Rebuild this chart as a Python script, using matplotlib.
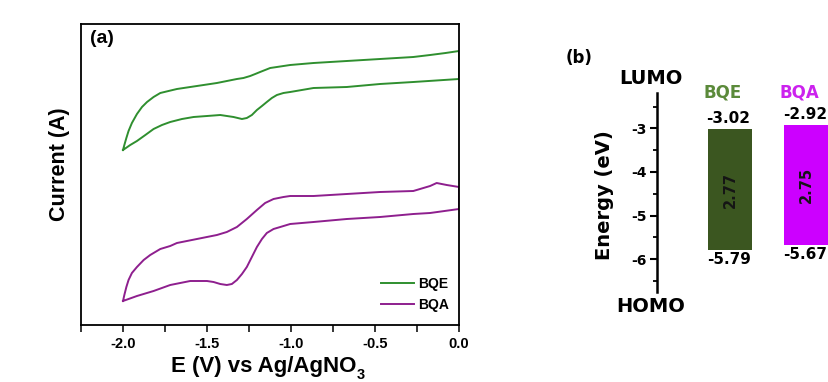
import matplotlib
matplotlib.use("Agg")
import matplotlib.pyplot as plt
from matplotlib.ticker import MultipleLocator

plt.rcParams['axes.unicode_minus'] = False
plt.rcParams['font.family'] = ['Liberation Sans', 'DejaVu Sans']
plt.rcParams['font.weight'] = 'bold'

# ---------------- data: cyclic voltammograms (arbitrary current units) -------------
bqe_fwd_v = [-2.0, -1.992, -1.980, -1.967, -1.947, -1.917, -1.887, -1.857, -1.818, -1.778,
             -1.729, -1.679, -1.560, -1.441, -1.322, -1.283, -1.243, -1.213, -1.184, -1.154,
             -1.124, -1.084, -1.005, -0.866, -0.668, -0.470, -0.272, -0.172, -0.080, 0.0]
bqe_fwd_i = [175, 180, 187, 194, 202, 211, 218, 223, 228, 232,
             234, 236, 239, 242, 246, 247, 249, 251, 253, 255,
             257, 258, 260, 262, 264, 266, 268, 270, 272, 274]
bqe_rev_v = [0.0, -0.272, -0.470, -0.668, -0.866, -1.005, -1.045, -1.084, -1.114, -1.144,
             -1.173, -1.203, -1.233, -1.263, -1.292, -1.342, -1.421, -1.500, -1.580, -1.649,
             -1.719, -1.768, -1.818, -1.867, -1.917, -1.957, -2.0]
bqe_rev_i = [246, 243, 241, 238, 237, 233, 232, 230, 227, 223,
             219, 215, 210, 207, 206, 208, 210, 209, 208, 206,
             203, 200, 196, 190, 184, 180, 175]

bqa_fwd_v = [-2.0, -1.992, -1.980, -1.967, -1.947, -1.917, -1.877, -1.838, -1.778, -1.719,
             -1.679, -1.560, -1.441, -1.382, -1.322, -1.263, -1.203, -1.154, -1.104, -1.045,
             -1.005, -0.866, -0.668, -0.470, -0.272, -0.232, -0.172, -0.133, -0.073, 0.0]
bqa_fwd_i = [24, 30, 38, 45, 52, 58, 65, 70, 76, 79,
             82, 86, 90, 93, 98, 106, 115, 122, 126, 128,
             129, 129, 131, 133, 134, 136, 139, 142, 140, 138]
bqa_rev_v = [0.0, -0.172, -0.272, -0.470, -0.668, -0.866, -1.005, -1.064, -1.104, -1.144,
             -1.173, -1.203, -1.233, -1.263, -1.292, -1.322, -1.352, -1.382, -1.421, -1.461,
             -1.500, -1.600, -1.719, -1.818, -1.917, -2.0]
bqa_rev_i = [116, 112, 111, 108, 106, 103, 101, 98, 96, 92,
             86, 78, 68, 58, 51, 45, 41, 40, 41, 43,
             44, 44, 40, 34, 29, 24]

# ---------------- data: energy levels ----------------
materials = ['BQE', 'BQA']
lumo = [-3.02, -2.92]
homo = [-5.79, -5.67]
gaps = ['2.77', '2.75']
cv_ticks = [-2.0, -1.5, -1.0, -0.5, 0.0]
cv_ticklabels = ['-2.0', '-1.5', '-1.0', '-0.5', '0.0']
e_ticks = [-3, -4, -5, -6]
e_ticklabels = ['-3', '-4', '-5', '-6']

cv_colors = ['#2f8f2f', '#8e1f8e']
bar_colors = ['#3b5620', '#cc00ff']
label_colors = ['#5b8a3a', '#cc22ee']

W, H = 829, 382
fig = plt.figure(figsize=(W / 100, H / 100), dpi=100)

def fx(px):
    return px / W

def fy(py):
    return 1 - py / H

AR = 'Liberation Sans'
DV = 'DejaVu Sans'

# ---------------- panel (a) ----------------
ax = fig.add_axes([fx(81), fy(325), fx(459 - 81), (325 - 24) / H])
ax.plot(bqe_fwd_v + bqe_rev_v, bqe_fwd_i + bqe_rev_i, color=cv_colors[0], lw=1.4,
        label='BQE', solid_joinstyle='round')
ax.plot(bqa_fwd_v + bqa_rev_v, bqa_fwd_i + bqa_rev_i, color=cv_colors[1], lw=1.4,
        label='BQA', solid_joinstyle='round')
ax.set_xlim(-2.25, 0.0)
ax.set_ylim(0, 301)
ax.set_yticks([])
ax.set_xticks(cv_ticks, labels=cv_ticklabels, fontfamily=AR, fontweight='bold', fontsize=10.5)
ax.xaxis.set_minor_locator(MultipleLocator(0.25))
ax.tick_params(axis='x', which='both', direction='out', length=5, width=1.1, pad=3.5)
for s in ax.spines.values():
    s.set_linewidth(1.3)

ax.legend(loc='center left', bbox_to_anchor=(fx(381), fy(294.5)),
          bbox_transform=fig.transFigure, frameon=False,
          prop={'family': AR, 'weight': 'bold', 'size': 10},
          handlelength=2.4, handletextpad=0.25, labelspacing=0.5,
          borderpad=0, borderaxespad=0)

fig.text(fx(101.5), fy(38.5), '(a)', family=AR, weight='bold', size=14,
         ha='center', va='center')
fig.text(fx(60), fy(164), 'Current (A)', family=AR, weight='bold', size=15.5,
         rotation=90, ha='center', va='center')
xl = fig.text(fx(264), fy(372), 'E (V) vs Ag/AgNO', family=AR, weight='bold', size=16,
              ha='center', va='baseline')
renderer = fig.canvas.get_renderer()
bb = xl.get_window_extent(renderer)
fig.text(bb.x1 / W + 0.5 / W, fy(379), '3', family=AR, weight='bold', size=10.5,
         ha='left', va='baseline')

# ---------------- panel (b) ----------------
axb = fig.add_axes([fx(656.7), fy(292), 1 - fx(656.7), (292 - 93) / H])
pos = list(range(len(materials)))
heights = [l - h for l, h in zip(lumo, homo)]
axb.bar(pos, heights, bottom=homo, width=0.577, color=bar_colors)
axb.set_xlim(-0.961, 1.298)
axb.set_ylim(-6.75, -2.19)
for s in ['top', 'right', 'bottom']:
    axb.spines[s].set_visible(False)
axb.spines['left'].set_linewidth(1.8)
axb.set_xticks([])
axb.set_yticks(e_ticks, labels=e_ticklabels, fontfamily=DV, fontweight='bold', fontsize=10)
axb.yaxis.set_minor_locator(MultipleLocator(0.5))
axb.tick_params(axis='y', which='major', direction='out', length=5, width=1.5, pad=2)
axb.tick_params(axis='y', which='minor', direction='out', length=3, width=1.3)

for i, m in enumerate(materials):
    axb.annotate(f'{lumo[i]:.2f}', (pos[i], lumo[i]), xytext=(-1, 4.5),
                 textcoords='offset points', ha='center', va='baseline',
                 family=DV, weight='bold', size=11, annotation_clip=False)
    axb.annotate(f'{homo[i]:.2f}', (pos[i], homo[i]), xytext=(-1, -1.5),
                 textcoords='offset points', ha='center', va='top',
                 family=DV, weight='bold', size=11, annotation_clip=False)
    axb.text(pos[i], (lumo[i] + homo[i]) / 2, gaps[i], rotation=90, ha='center',
             va='center', family=DV, weight='bold', size=10.5, color='#151515')
    axb.annotate(m, (pos[i], -2.19), xytext=(-5, 0), textcoords='offset points',
                 ha='center', va='center', family=DV, weight='bold', size=12,
                 color=label_colors[i], annotation_clip=False)

fig.text(fx(579), fy(58), '(b)', family=DV, weight='bold', size=12, ha='center', va='center')
fig.text(fx(651), fy(78), 'LUMO', family=DV, weight='bold', size=14, ha='center', va='center')
fig.text(fx(651), fy(307), 'HOMO', family=DV, weight='bold', size=14, ha='center', va='center')
fig.text(fx(604), fy(195), 'Energy (eV)', family=DV, weight='bold', size=14,
         rotation=90, ha='center', va='center')

fig.savefig('out.png', dpi=100)
